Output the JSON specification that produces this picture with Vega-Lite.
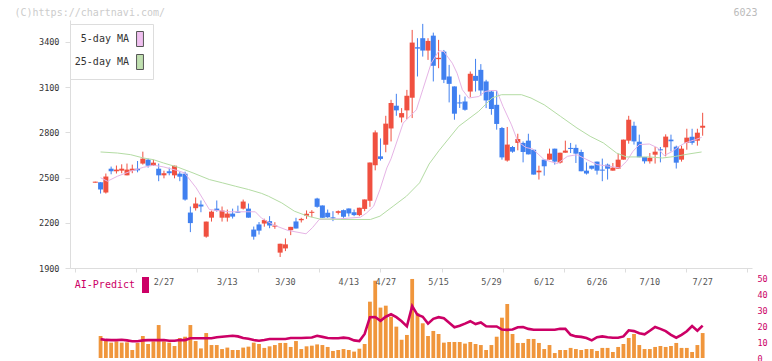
{
"$schema": "https://vega.github.io/schema/vega-lite/v6.json",
"width": 682, "height": 248,
"autosize": {"type": "none"},
"padding": {"left": 70, "top": 20, "right": 20, "bottom": 93},
"background": "white",
"config": {"view": {"stroke": null}},
"datasets": {
"candles": [
{"i":0,"o":2466,"h":2473,"l":2466,"c":2473},{"i":1,"o":2469,"h":2470,"l":2394,"c":2421},{"i":2,"o":2401,"h":2527,"l":2394,"c":2507},{"i":3,"o":2559,"h":2573,"l":2522,"c":2542},{"i":4,"o":2542,"h":2580,"l":2527,"c":2553},{"i":5,"o":2546,"h":2588,"l":2529,"c":2559},{"i":6,"o":2515,"h":2593,"l":2515,"c":2553},{"i":7,"o":2546,"h":2586,"l":2529,"c":2559},{"i":8,"o":2559,"h":2610,"l":2535,"c":2548},{"i":9,"o":2593,"h":2672,"l":2586,"c":2626},
{"i":10,"o":2619,"h":2626,"l":2566,"c":2579},{"i":11,"o":2579,"h":2619,"l":2579,"c":2599},{"i":12,"o":2559,"h":2593,"l":2476,"c":2515},{"i":13,"o":2515,"h":2546,"l":2495,"c":2529},{"i":14,"o":2542,"h":2566,"l":2515,"c":2529},{"i":15,"o":2515,"h":2579,"l":2495,"c":2579},{"i":16,"o":2526,"h":2539,"l":2476,"c":2506},{"i":17,"o":2526,"h":2539,"l":2347,"c":2354},{"i":18,"o":2268,"h":2308,"l":2138,"c":2198},{"i":19,"o":2297,"h":2368,"l":2281,"c":2328},
{"i":20,"o":2321,"h":2348,"l":2270,"c":2308},{"i":21,"o":2108,"h":2208,"l":2101,"c":2208},{"i":22,"o":2234,"h":2281,"l":2208,"c":2274},{"i":23,"o":2294,"h":2348,"l":2274,"c":2281},{"i":24,"o":2234,"h":2308,"l":2208,"c":2281},{"i":25,"o":2234,"h":2288,"l":2208,"c":2261},{"i":26,"o":2261,"h":2294,"l":2228,"c":2241},{"i":27,"o":2274,"h":2314,"l":2267,"c":2267},{"i":28,"o":2294,"h":2354,"l":2288,"c":2341},{"i":29,"o":2294,"h":2328,"l":2234,"c":2234},
{"i":30,"o":2155,"h":2175,"l":2088,"c":2108},{"i":31,"o":2189,"h":2205,"l":2122,"c":2148},{"i":32,"o":2195,"h":2227,"l":2174,"c":2218},{"i":33,"o":2211,"h":2244,"l":2164,"c":2182},{"i":34,"o":2174,"h":2204,"l":2160,"c":2182},{"i":35,"o":2002,"h":2061,"l":1973,"c":2061},{"i":36,"o":2030,"h":2096,"l":2012,"c":2057},{"i":37,"o":2151,"h":2173,"l":2118,"c":2173},{"i":38,"o":2209,"h":2233,"l":2162,"c":2162},{"i":39,"o":2217,"h":2233,"l":2202,"c":2226},
{"i":40,"o":2247,"h":2282,"l":2226,"c":2260},{"i":41,"o":2266,"h":2284,"l":2237,"c":2273},{"i":42,"o":2361,"h":2366,"l":2300,"c":2306},{"i":43,"o":2315,"h":2315,"l":2233,"c":2233},{"i":44,"o":2266,"h":2288,"l":2233,"c":2237},{"i":45,"o":2236,"h":2277,"l":2211,"c":2229},{"i":46,"o":2266,"h":2282,"l":2255,"c":2277},{"i":47,"o":2284,"h":2288,"l":2233,"c":2240},{"i":48,"o":2295,"h":2295,"l":2242,"c":2262},{"i":49,"o":2270,"h":2288,"l":2244,"c":2251},
{"i":50,"o":2251,"h":2300,"l":2244,"c":2300},{"i":51,"o":2292,"h":2355,"l":2277,"c":2355},{"i":52,"o":2346,"h":2600,"l":2306,"c":2600},{"i":53,"o":2582,"h":2813,"l":2548,"c":2800},{"i":54,"o":2641,"h":2760,"l":2613,"c":2624},{"i":55,"o":2718,"h":2910,"l":2668,"c":2858},{"i":56,"o":2826,"h":3016,"l":2740,"c":2995},{"i":57,"o":2977,"h":3056,"l":2910,"c":2946},{"i":58,"o":2899,"h":2961,"l":2866,"c":2928},{"i":59,"o":2946,"h":3082,"l":2888,"c":3043},
{"i":60,"o":3030,"h":3480,"l":2895,"c":3396},{"i":61,"o":3365,"h":3425,"l":3171,"c":3356},{"i":62,"o":3425,"h":3520,"l":3303,"c":3343},{"i":63,"o":3343,"h":3425,"l":3281,"c":3407},{"i":64,"o":3442,"h":3462,"l":3138,"c":3242},{"i":65,"o":3286,"h":3414,"l":3226,"c":3295},{"i":66,"o":3336,"h":3347,"l":3127,"c":3149},{"i":67,"o":3171,"h":3248,"l":2999,"c":3122},{"i":68,"o":3105,"h":3105,"l":2884,"c":2924},{"i":69,"o":2999,"h":3050,"l":2962,"c":2992},
{"i":70,"o":3005,"h":3038,"l":2944,"c":2950},{"i":71,"o":3071,"h":3204,"l":3034,"c":3189},{"i":72,"o":3175,"h":3288,"l":3071,"c":3142},{"i":73,"o":3215,"h":3253,"l":3043,"c":3078},{"i":74,"o":3138,"h":3149,"l":2961,"c":3012},{"i":75,"o":3071,"h":3078,"l":2917,"c":2955},{"i":76,"o":2983,"h":3076,"l":2818,"c":2856},{"i":77,"o":2829,"h":2836,"l":2619,"c":2634},{"i":78,"o":2613,"h":2836,"l":2606,"c":2719},{"i":79,"o":2703,"h":2710,"l":2665,"c":2672},
{"i":80,"o":2730,"h":2791,"l":2681,"c":2756},{"i":81,"o":2730,"h":2740,"l":2601,"c":2670},{"i":82,"o":2745,"h":2791,"l":2654,"c":2654},{"i":83,"o":2685,"h":2685,"l":2520,"c":2520},{"i":84,"o":2535,"h":2579,"l":2487,"c":2546},{"i":85,"o":2619,"h":2619,"l":2513,"c":2575},{"i":86,"o":2619,"h":2692,"l":2619,"c":2659},{"i":87,"o":2692,"h":2692,"l":2586,"c":2606},{"i":88,"o":2599,"h":2665,"l":2593,"c":2665},{"i":89,"o":2665,"h":2745,"l":2665,"c":2679},
{"i":90,"o":2697,"h":2730,"l":2663,"c":2690},{"i":91,"o":2697,"h":2719,"l":2597,"c":2659},{"i":92,"o":2670,"h":2685,"l":2542,"c":2542},{"i":93,"o":2546,"h":2601,"l":2520,"c":2527},{"i":94,"o":2579,"h":2579,"l":2553,"c":2559},{"i":95,"o":2606,"h":2606,"l":2520,"c":2546},{"i":96,"o":2553,"h":2626,"l":2476,"c":2546},{"i":97,"o":2586,"h":2593,"l":2487,"c":2559},{"i":98,"o":2546,"h":2597,"l":2546,"c":2566},{"i":99,"o":2559,"h":2659,"l":2559,"c":2619},
{"i":100,"o":2619,"h":2752,"l":2619,"c":2752},{"i":101,"o":2745,"h":2910,"l":2725,"c":2884},{"i":102,"o":2844,"h":2871,"l":2719,"c":2740},{"i":103,"o":2738,"h":2785,"l":2635,"c":2635},{"i":104,"o":2637,"h":2637,"l":2593,"c":2608},{"i":105,"o":2608,"h":2663,"l":2593,"c":2632},{"i":106,"o":2652,"h":2703,"l":2593,"c":2672},{"i":107,"o":2688,"h":2703,"l":2601,"c":2681},{"i":108,"o":2701,"h":2787,"l":2641,"c":2772},{"i":109,"o":2752,"h":2785,"l":2674,"c":2741},
{"i":110,"o":2705,"h":2712,"l":2560,"c":2599},{"i":111,"o":2619,"h":2712,"l":2606,"c":2692},{"i":112,"o":2731,"h":2824,"l":2685,"c":2765},{"i":113,"o":2771,"h":2824,"l":2718,"c":2731},{"i":114,"o":2745,"h":2824,"l":2712,"c":2798},{"i":115,"o":2831,"h":2930,"l":2778,"c":2844}
],
"vol": [
{"i":1,"v":13.75,"ai":11.8},{"i":2,"v":11.25,"ai":11.3},{"i":3,"v":9.6,"ai":11.2},{"i":4,"v":10.4,"ai":11.2},{"i":5,"v":9.6,"ai":11.4},{"i":6,"v":9.8,"ai":11.0},{"i":7,"v":5.0,"ai":10.5},{"i":8,"v":9.4,"ai":10.5},{"i":9,"v":13.75,"ai":11.0},{"i":10,"v":8.75,"ai":11.2},
{"i":11,"v":10.4,"ai":11.2},{"i":12,"v":20.6,"ai":11.2},{"i":13,"v":10.4,"ai":11.2},{"i":14,"v":9.6,"ai":10.8},{"i":15,"v":7.5,"ai":10.8},{"i":16,"v":12.5,"ai":11.2},{"i":17,"v":13.3,"ai":11.2},{"i":18,"v":20.6,"ai":12.3},{"i":19,"v":10.6,"ai":12.3},{"i":20,"v":6.0,"ai":12.3},
{"i":21,"v":15.6,"ai":12.3},{"i":22,"v":8.1,"ai":12.3},{"i":23,"v":8.1,"ai":13.0},{"i":24,"v":5.6,"ai":13.3},{"i":25,"v":6.5,"ai":13.6},{"i":26,"v":5.0,"ai":13.9},{"i":27,"v":5.0,"ai":13.5},{"i":28,"v":6.5,"ai":12.5},{"i":29,"v":7.1,"ai":12.0},{"i":30,"v":9.6,"ai":11.2},
{"i":31,"v":8.75,"ai":10.8},{"i":32,"v":6.3,"ai":11.3},{"i":33,"v":7.3,"ai":11.9},{"i":34,"v":8.1,"ai":11.9},{"i":35,"v":9.4,"ai":11.9},{"i":36,"v":9.4,"ai":11.9},{"i":37,"v":6.9,"ai":12.5},{"i":38,"v":10.6,"ai":12.5},{"i":39,"v":5.6,"ai":12.5},{"i":40,"v":7.3,"ai":12.7},
{"i":41,"v":7.7,"ai":12.8},{"i":42,"v":8.5,"ai":13.9},{"i":43,"v":8.1,"ai":13.2},{"i":44,"v":6.9,"ai":12.5},{"i":45,"v":4.4,"ai":12.3},{"i":46,"v":5.0,"ai":12.3},{"i":47,"v":5.6,"ai":12.7},{"i":48,"v":5.0,"ai":12.3},{"i":49,"v":4.0,"ai":11.0},{"i":50,"v":5.8,"ai":10.6},
{"i":51,"v":8.75,"ai":15.0},{"i":52,"v":35.2,"ai":25.5},{"i":53,"v":48.3,"ai":25.6},{"i":54,"v":31.5,"ai":23.2},{"i":55,"v":32.7,"ai":25.8},{"i":56,"v":25.8,"ai":27.3},{"i":57,"v":19.6,"ai":25.5},{"i":58,"v":11.4,"ai":23.0},{"i":59,"v":14.4,"ai":19.8},{"i":60,"v":49.4,"ai":32.5},
{"i":61,"v":28.1,"ai":27.0},{"i":62,"v":21.7,"ai":25.8},{"i":63,"v":13.75,"ai":21.5},{"i":64,"v":16.9,"ai":24.5},{"i":65,"v":15.0,"ai":25.5},{"i":66,"v":9.6,"ai":24.8},{"i":67,"v":10.0,"ai":22.0},{"i":68,"v":10.0,"ai":19.2},{"i":69,"v":10.0,"ai":20.2},{"i":70,"v":9.0,"ai":21.5},
{"i":71,"v":10.0,"ai":23.0},{"i":72,"v":8.75,"ai":21.2},{"i":73,"v":8.1,"ai":22.2},{"i":74,"v":5.0,"ai":19.8},{"i":75,"v":8.1,"ai":19.7},{"i":76,"v":13.3,"ai":19.7},{"i":77,"v":25.2,"ai":17.8},{"i":78,"v":33.75,"ai":17.6},{"i":79,"v":15.0,"ai":17.8},{"i":80,"v":9.4,"ai":19.2},
{"i":81,"v":9.4,"ai":19.4},{"i":82,"v":11.9,"ai":18.2},{"i":83,"v":11.9,"ai":17.7},{"i":84,"v":9.4,"ai":17.7},{"i":85,"v":5.6,"ai":17.7},{"i":86,"v":8.1,"ai":17.7},{"i":87,"v":3.1,"ai":17.7},{"i":88,"v":5.0,"ai":18.3},{"i":89,"v":5.0,"ai":18.2},{"i":90,"v":6.3,"ai":14.5},
{"i":91,"v":5.6,"ai":13.5},{"i":92,"v":5.0,"ai":13.2},{"i":93,"v":5.6,"ai":12.5},{"i":94,"v":5.6,"ai":11.0},{"i":95,"v":4.4,"ai":13.0},{"i":96,"v":6.3,"ai":13.5},{"i":97,"v":6.3,"ai":13.0},{"i":98,"v":3.75,"ai":12.7},{"i":99,"v":6.9,"ai":12.7},{"i":100,"v":8.75,"ai":13.5},
{"i":101,"v":12.5,"ai":17.3},{"i":102,"v":15.0,"ai":16.8},{"i":103,"v":8.1,"ai":15.5},{"i":104,"v":5.6,"ai":14.8},{"i":105,"v":5.6,"ai":17.0},{"i":106,"v":6.9,"ai":19.4},{"i":107,"v":7.5,"ai":18.2},{"i":108,"v":6.9,"ai":16.8},{"i":109,"v":7.5,"ai":14.5},{"i":110,"v":9.4,"ai":12.7},
{"i":111,"v":6.3,"ai":14.5},{"i":112,"v":6.3,"ai":16.7},{"i":113,"v":3.75,"ai":20.0},{"i":114,"v":8.1,"ai":17.0},{"i":115,"v":15.6,"ai":20.2}
],
"ma": [
{"name":"5-day MA","i":1,"v":2499},{"name":"5-day MA","i":2.3,"v":2476},{"name":"5-day MA","i":4.2,"v":2509},{"name":"5-day MA","i":6.7,"v":2542},{"name":"5-day MA","i":9.1,"v":2568},{"name":"5-day MA","i":11,"v":2582},{"name":"5-day MA","i":12.9,"v":2571},{"name":"5-day MA","i":15.4,"v":2548},{"name":"5-day MA","i":16.9,"v":2531},{"name":"5-day MA","i":19.1,"v":2432},{"name":"5-day MA","i":21.6,"v":2288},{"name":"5-day MA","i":25.3,"v":2273},{"name":"5-day MA","i":30.3,"v":2273},{"name":"5-day MA","i":31.5,"v":2230},{"name":"5-day MA","i":34,"v":2182},{"name":"5-day MA","i":36.5,"v":2149},{"name":"5-day MA","i":39.9,"v":2127},{"name":"5-day MA","i":41.1,"v":2167},{"name":"5-day MA","i":42.4,"v":2222},{"name":"5-day MA","i":46.5,"v":2227},{"name":"5-day MA","i":50.2,"v":2237},{"name":"5-day MA","i":51.4,"v":2266},{"name":"5-day MA","i":52.7,"v":2310},{"name":"5-day MA","i":53.9,"v":2421},{"name":"5-day MA","i":55.2,"v":2564},{"name":"5-day MA","i":56,"v":2625},{"name":"5-day MA","i":58.3,"v":2862},{"name":"5-day MA","i":60.8,"v":2950},{"name":"5-day MA","i":62,"v":3083},{"name":"5-day MA","i":63.6,"v":3259},{"name":"5-day MA","i":65.1,"v":3343},{"name":"5-day MA","i":66,"v":3336},{"name":"5-day MA","i":67.6,"v":3259},{"name":"5-day MA","i":68.5,"v":3193},{"name":"5-day MA","i":69.5,"v":3083},{"name":"5-day MA","i":70.7,"v":3028},{"name":"5-day MA","i":72.6,"v":3038},{"name":"5-day MA","i":73.8,"v":3071},{"name":"5-day MA","i":74.8,"v":3078},{"name":"5-day MA","i":76,"v":3078},{"name":"5-day MA","i":77.2,"v":2972},{"name":"5-day MA","i":78.8,"v":2850},{"name":"5-day MA","i":80,"v":2740},{"name":"5-day MA","i":81.5,"v":2700},{"name":"5-day MA","i":82.8,"v":2690},{"name":"5-day MA","i":85,"v":2619},{"name":"5-day MA","i":87.5,"v":2593},{"name":"5-day MA","i":89.4,"v":2641},{"name":"5-day MA","i":91.2,"v":2652},{"name":"5-day MA","i":93.1,"v":2619},{"name":"5-day MA","i":95,"v":2586},{"name":"5-day MA","i":97.4,"v":2575},{"name":"5-day MA","i":99.3,"v":2564},{"name":"5-day MA","i":100.6,"v":2608},{"name":"5-day MA","i":101.8,"v":2674},{"name":"5-day MA","i":103,"v":2719},{"name":"5-day MA","i":104.9,"v":2723},{"name":"5-day MA","i":106.5,"v":2697},{"name":"5-day MA","i":107.7,"v":2646},{"name":"5-day MA","i":109.3,"v":2674},{"name":"5-day MA","i":110.5,"v":2707},{"name":"5-day MA","i":111.7,"v":2730},{"name":"5-day MA","i":113.6,"v":2752},{"name":"5-day MA","i":114.8,"v":2767},
{"name":"25-day MA","i":1,"v":2670},{"name":"25-day MA","i":4.2,"v":2663},{"name":"25-day MA","i":6.7,"v":2652},{"name":"25-day MA","i":9.1,"v":2630},{"name":"25-day MA","i":11,"v":2619},{"name":"25-day MA","i":12.9,"v":2597},{"name":"25-day MA","i":15.7,"v":2568},{"name":"25-day MA","i":18.5,"v":2531},{"name":"25-day MA","i":21.6,"v":2487},{"name":"25-day MA","i":24.1,"v":2465},{"name":"25-day MA","i":26.5,"v":2443},{"name":"25-day MA","i":29,"v":2421},{"name":"25-day MA","i":31.5,"v":2395},{"name":"25-day MA","i":32.8,"v":2376},{"name":"25-day MA","i":35.3,"v":2332},{"name":"25-day MA","i":37.7,"v":2277},{"name":"25-day MA","i":40.2,"v":2244},{"name":"25-day MA","i":42.4,"v":2226},{"name":"25-day MA","i":46.5,"v":2222},{"name":"25-day MA","i":52.1,"v":2222},{"name":"25-day MA","i":53.9,"v":2244},{"name":"25-day MA","i":56.4,"v":2310},{"name":"25-day MA","i":58.9,"v":2376},{"name":"25-day MA","i":61.4,"v":2465},{"name":"25-day MA","i":63.2,"v":2590},{"name":"25-day MA","i":65.1,"v":2680},{"name":"25-day MA","i":68.8,"v":2840},{"name":"25-day MA","i":72.6,"v":2940},{"name":"25-day MA","i":75.1,"v":3028},{"name":"25-day MA","i":76.9,"v":3050},{"name":"25-day MA","i":80.7,"v":3050},{"name":"25-day MA","i":82.5,"v":3028},{"name":"25-day MA","i":85,"v":2983},{"name":"25-day MA","i":88.1,"v":2906},{"name":"25-day MA","i":91.2,"v":2829},{"name":"25-day MA","i":93.7,"v":2774},{"name":"25-day MA","i":96.2,"v":2730},{"name":"25-day MA","i":98.7,"v":2663},{"name":"25-day MA","i":100.6,"v":2637},{"name":"25-day MA","i":104.9,"v":2637},{"name":"25-day MA","i":107.4,"v":2630},{"name":"25-day MA","i":109.9,"v":2641},{"name":"25-day MA","i":112.4,"v":2657},{"name":"25-day MA","i":114.8,"v":2670}
],
"dates": [
{"i":13,"d":"2/27"},{"i":25,"d":"3/13"},{"i":36,"d":"3/30"},{"i":48,"d":"4/13"},{"i":55,"d":"4/27"},{"i":65,"d":"5/15"},{"i":75,"d":"5/29"},{"i":85,"d":"6/12"},{"i":95,"d":"6/26"},{"i":105,"d":"7/10"},{"i":115,"d":"7/27"}
]
},
"encoding": {
"x": {"field": "i", "type": "quantitative",
 "scale": {"domain": [-3.843, 123.396], "nice": false, "zero": false},
 "axis": {"values": [-3.84, 7.724, 19.291, 30.859, 42.426, 53.993, 65.56, 77.127, 88.695, 100.262, 111.829, 123.39], "labels": false, "grid": false, "domainColor": "#dddddd", "tickColor": "#dddddd", "tickSize": 4, "title": null}}
},
"layer": [
{"layer": [
 {"data": {"name": "candles"},
  "mark": {"type": "rule", "strokeWidth": 1},
  "encoding": {
   "y": {"field": "l", "type": "quantitative", "scale": {"domain": [1900, 3545.8], "nice": false, "zero": false},
    "axis": {"values": [1900, 2200, 2500, 2800, 3100, 3400], "format": "d", "grid": false, "domainColor": "#dddddd", "tickColor": "#dddddd", "tickSize": 5, "labelPadding": 6, "labelFont": "DejaVu Sans Mono", "labelFontSize": 8.5, "labelColor": "#333333",
     "title": "(C)https://chartnavi.com/", "titleAngle": 0, "titleX": -56, "titleY": -8, "titleAlign": "left", "titleBaseline": "middle", "titleFont": "DejaVu Sans Mono", "titleFontSize": 10, "titleFontWeight": "normal", "titleColor": "#cccccc"}},
   "y2": {"field": "h"},
   "color": {"condition": {"test": "datum.c >= datum.o", "value": "#f05040"}, "value": "#4080f0"}
  }},
 {"data": {"name": "candles"},
  "mark": {"type": "bar", "size": 5},
  "encoding": {
   "y": {"field": "o", "type": "quantitative", "scale": {"domain": [1900, 3545.8], "nice": false, "zero": false}},
   "y2": {"field": "c"},
   "color": {"condition": {"test": "datum.c >= datum.o", "value": "#f05040"}, "value": "#4080f0"}
  }},
 {"data": {"name": "ma"},
  "mark": {"type": "line", "strokeWidth": 1},
  "encoding": {
   "y": {"field": "v", "type": "quantitative", "scale": {"domain": [1900, 3545.8], "nice": false, "zero": false}},
   "color": {"field": "name", "type": "nominal", "scale": {"domain": ["5-day MA", "25-day MA"], "range": ["#e6b4e6", "#b4dca4"]}, "legend": null}
  }},
 {"data": {"name": "ma"},
  "transform": [{"filter": "false"}],
  "mark": {"type": "square", "filled": true, "opacity": 1},
  "encoding": {
   "fill": {"field": "name", "type": "nominal", "scale": {"domain": ["5-day MA", "25-day MA"], "range": ["#f0c0f0", "#c0e0b0"]},
    "legend": {"orient": "none", "legendX": 0, "legendY": 4, "title": null, "padding": 7, "rowPadding": 3, "fillColor": "#ffffff", "strokeColor": "#dddddd",
     "symbolType": "M-0.46,-1H0.46V1H-0.46Z", "symbolSize": 225, "symbolStrokeColor": "#555555", "symbolStrokeWidth": 1, "symbolOpacity": 1,
     "labelFont": "DejaVu Sans Mono", "labelFontSize": 10, "labelColor": "#333333", "labelAlign": "right", "labelOffset": -19, "symbolOffset": 55}}
  }}
]},
{"layer": [
 {"data": {"name": "vol"},
  "mark": {"type": "bar", "size": 3.8, "color": "#f0963c"},
  "encoding": {
   "y": {"field": "v", "type": "quantitative", "scale": {"domain": [0, 50], "range": [338, 258], "nice": false, "zero": false},
    "axis": {"orient": "right", "values": [0, 10, 20, 30, 40, 50], "domain": false, "ticks": false, "tickSize": 0, "grid": false, "labelPadding": 5, "labelFont": "DejaVu Sans Mono", "labelFontSize": 8.5, "labelColor": "#cc0066",
     "title": "6023", "titleAngle": 0, "titleX": -19, "titleY": -8, "titleAlign": "left", "titleBaseline": "middle", "titleFont": "DejaVu Sans Mono", "titleFontSize": 10, "titleFontWeight": "normal", "titleColor": "#bbbbbb"}}
  }},
 {"data": {"name": "vol"},
  "mark": {"type": "line", "strokeWidth": 2.6, "color": "#cc0066"},
  "encoding": {
   "y": {"field": "ai", "type": "quantitative", "scale": {"domain": [0, 50], "range": [338, 258], "nice": false, "zero": false}}
  }},
 {"data": {"name": "dates"},
  "mark": {"type": "text", "font": "DejaVu Sans Mono", "fontSize": 8.5, "color": "#555555", "align": "center", "baseline": "middle"},
  "encoding": {
   "y": {"datum": 47.5, "type": "quantitative", "scale": {"domain": [0, 50], "range": [338, 258], "nice": false, "zero": false}},
   "text": {"field": "d"}
  }},
 {"data": {"name": "vol"},
  "transform": [{"filter": "false"}],
  "mark": {"type": "square", "filled": true, "opacity": 1},
  "encoding": {
   "fill": {"datum": "AI-Predict", "type": "nominal", "scale": {"range": ["#cc0066"]},
    "legend": {"orient": "none", "legendX": 6, "legendY": 257, "title": null, "padding": 0,
     "symbolType": "M-0.44,-1H0.44V1H-0.44Z", "symbolSize": 256, "symbolStrokeWidth": 0, "symbolOpacity": 1,
     "labelFont": "DejaVu Sans Mono", "labelFontSize": 10, "labelColor": "#cc0066", "labelAlign": "right", "labelOffset": -18.5, "symbolOffset": 61.5}}
  }}
]}
],
"resolve": {"scale": {"y": "independent", "fill": "independent"}}
}
